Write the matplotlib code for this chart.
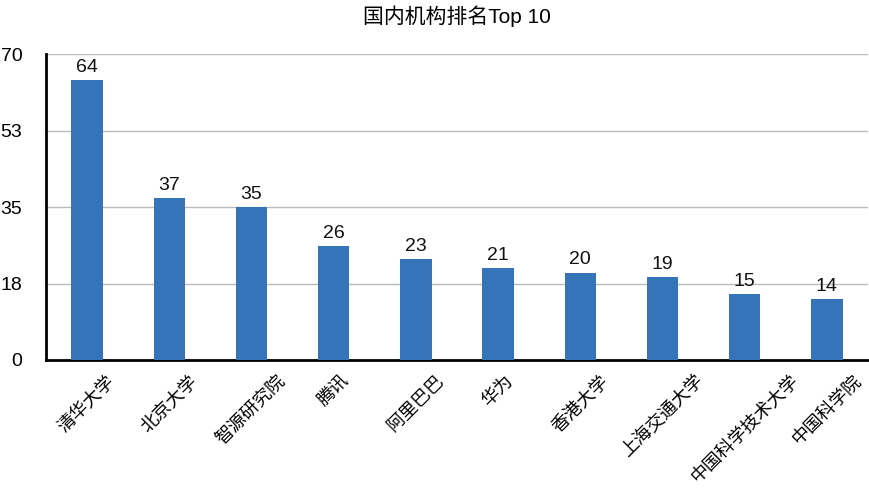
import matplotlib
matplotlib.use('Agg')
import matplotlib.pyplot as plt

plt.rcParams['font.family'] = ['Liberation Sans', 'Noto Sans CJK SC', 'DejaVu Sans']

# ---------------- DATA ----------------
institutions = ['清华大学', '北京大学', '智源研究院', '腾讯', '阿里巴巴', '华为',
                '香港大学', '上海交通大学', '中国科学技术大学', '中国科学院']
counts = [64, 37, 35, 26, 23, 21, 20, 19, 15, 14]
y_ticks = [0, 17.5, 35, 52.5, 70]
y_tick_labels = ['0', '18', '35', '53', '70']

BAR_COLOR = '#3574b8'

fig = plt.figure(figsize=(8.7, 4.9), dpi=100)
ax = fig.add_axes([46 / 870, 130 / 490, 822 / 870, 306 / 490])

x = range(len(institutions))
bars = ax.bar(x, counts, width=0.38, color=BAR_COLOR, zorder=3)

# value labels on top of bars
for b, v in zip(bars, counts):
    ax.annotate(str(v), (b.get_x() + b.get_width() / 2, v),
                xytext=(0, 3), textcoords='offset points',
                ha='center', va='bottom', fontsize=14, color='#111111')

ax.set_xlim(-0.5, len(institutions) - 0.5)
ax.set_ylim(0, 70)
ax.set_yticks(y_ticks)
ax.set_yticklabels(y_tick_labels, fontsize=14)
ax.yaxis.grid(True, color='#bbbbbb', linewidth=1, zorder=0)
ax.tick_params(axis='y', length=0, pad=17)
ax.tick_params(axis='x', length=0, pad=9)

# rotated labels centred under each bar
ax.set_xticks(list(x))
ax.set_xticklabels(institutions, rotation=45, ha='center', va='top', fontsize=13)

for side in ['top', 'right']:
    ax.spines[side].set_visible(False)
ax.spines['left'].set_linewidth(2)
ax.spines['bottom'].set_linewidth(2)

# title centred over the plot area
ax.set_title('国内机构排名Top 10', fontsize=15, pad=22)

fig.savefig('out.png', dpi=100)
